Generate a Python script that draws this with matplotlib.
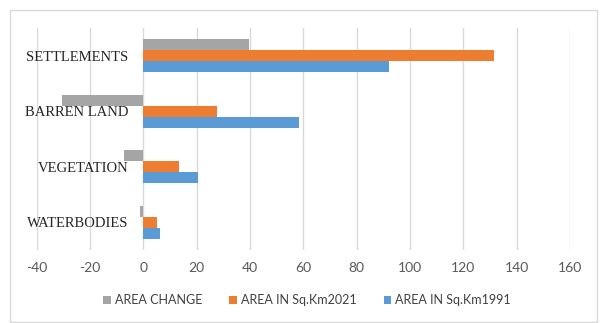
import matplotlib
matplotlib.use("Agg")
import matplotlib.pyplot as plt
from matplotlib.patches import Rectangle
import numpy as np

# land-use classes, bottom to top as drawn
categories = ["WATERBODIES", "VEGETATION", "BARREN LAND", "SETTLEMENTS"]
area_1991 = [6.3, 20.6, 58.2, 92.0]
area_2021 = [5.0, 13.4, 27.8, 131.5]
area_change = [-1.3, -7.2, -30.4, 39.5]
x_ticks = [-40, -20, 0, 20, 40, 60, 80, 100, 120, 140, 160]

BLUE, ORANGE, GRAY = "#5B9BD5", "#ED7D31", "#A5A5A5"
W, H = 603, 323

fig = plt.figure(figsize=(W / 100, H / 100), dpi=100)
# chart frame
fig.patches.append(Rectangle((10 / W, 1 - 322 / H), 587 / W, 312 / H,
                             transform=fig.transFigure, fill=False,
                             edgecolor="#d9d9d9", linewidth=1.0))

ax = fig.add_axes([36.7 / W, 1 - 250 / H, (570 - 36.7) / W, (250 - 28) / H])
y = np.arange(len(categories))
h = 0.2
ax.barh(y - h, area_1991, height=h, color=BLUE, label="AREA IN Sq.Km1991")
ax.barh(y, area_2021, height=h, color=ORANGE, label="AREA IN Sq.Km2021")
ax.barh(y + h, area_change, height=h, color=GRAY, label="AREA CHANGE")

ax.set_xlim(-40, 160)
ax.set_ylim(-0.5, 3.5)
ax.set_xticks(x_ticks)
ax.set_xticklabels([str(t) for t in x_ticks], fontfamily="Lato", fontsize=10, color="#595959")
ax.tick_params(axis="x", length=0, pad=9)

# category labels sit next to the zero line, as in Excel
ax.spines["left"].set_position(("data", 0))
for s in ax.spines.values():
    s.set_visible(False)
ax.set_yticks(y)
ax.set_yticklabels(categories, fontfamily="Liberation Serif", fontsize=10.5, color="#262626")
ax.tick_params(axis="y", length=0, pad=11)

ax.grid(axis="x", color="#d9d9d9", linewidth=1.0)
ax.set_axisbelow(True)

handles, labels = ax.get_legend_handles_labels()
order = [2, 1, 0]
fig.legend([handles[i] for i in order], [labels[i] for i in order],
           loc="center", bbox_to_anchor=(307 / W, 1 - 300 / H), ncol=3,
           frameon=False, handlelength=0.6, handleheight=0.6, handletextpad=0.3,
           columnspacing=2.2, prop={"family": "Lato", "size": 9},
           labelcolor="#404040")

fig.savefig("out.png", dpi=100)
